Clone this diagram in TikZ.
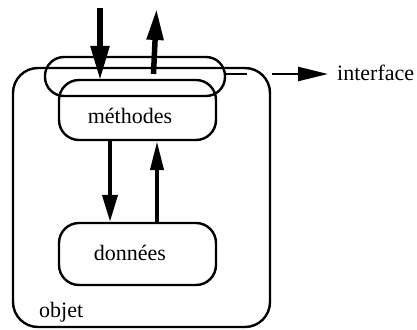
\documentclass[tikz,border=0pt]{standalone}
\usepackage{fontspec}
\setmainfont{Liberation Serif}
\usetikzlibrary{arrows.meta}
\begin{document}
\begin{tikzpicture}[x=1pt,y=-1pt,
  box/.style={draw,line width=2.4pt,rounded corners=#1,inner sep=0pt},
  lbl/.style={font=\fontsize{22}{24}\selectfont,inner sep=0pt},
  bigarrow/.style={line width=5.5pt,-{Triangle[length=34pt,width=18pt]}},
  smallarrow/.style={line width=4pt,-{Triangle[length=27pt,width=15pt]}},
  ifarrow/.style={line width=2.4pt,-{Triangle[length=30pt,width=14pt]}}]
\useasboundingbox (0,0) rectangle (417,329);
\node[box=25pt,minimum width=257pt,minimum height=259pt] (objet) at (141.5,197.5) {};
\node[box=19pt,minimum width=180pt,minimum height=39pt] (iface) at (135,76.5) {};
\node[box=20pt,minimum width=157pt,minimum height=60pt] (meth) at (137.5,110) {};
\node[lbl] (methtxt) at (130,116) {méthodes};
\node[box=20pt,minimum width=157pt,minimum height=62pt] (don) at (137.5,254) {};
\node[lbl] (dontxt) at (130,253) {données};
\node[lbl,anchor=base west] (objtxt) at (39,317) {objet};
% top arrows
\coordinate (inS) at (100,8);
\coordinate (inE) at (100,80);
\draw[bigarrow] (inS) -- (inE);
\coordinate (outS) at (153.5,74);
\coordinate (outE) at (156.5,9);
\draw[bigarrow,-{Triangle[length=31pt,width=16pt]}] (outS) -- (outE);
% inner arrows
\coordinate (xa) at (110,0);
\coordinate (xb) at (157,0);
\draw[smallarrow] (meth.south -| xa) -- (don.north -| xa);
\draw[smallarrow,-{Triangle[length=29pt,width=13pt]}] (don.north -| xb) -- (meth.south -| xb);
% interface
\coordinate (l1) at (247,74);
\coordinate (l2) at (272,74);
\coordinate (l3) at (328,74);
\draw[line width=2.4pt] (iface.east |- l1) -- (l1);
\draw[ifarrow] (l2) -- (l3);
\node[lbl,anchor=west] (iftxt) at (337,73) {interface};
\end{tikzpicture}
\end{document}
